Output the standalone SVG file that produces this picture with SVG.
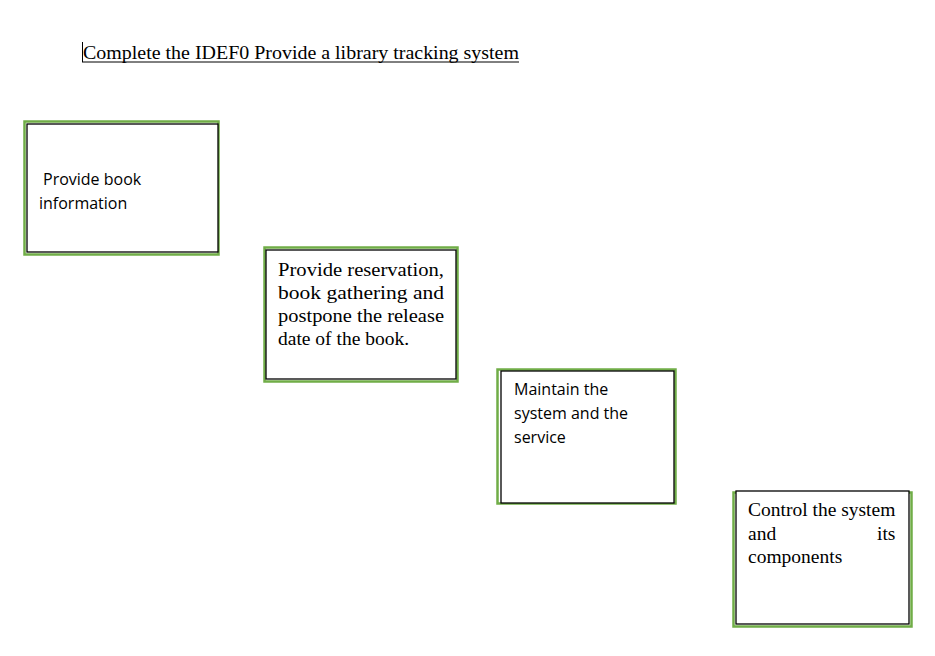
<svg xmlns="http://www.w3.org/2000/svg" width="935" height="656" viewBox="0 0 935 656">
<style>
.g{fill:none;stroke:#70ad47;stroke-width:2.5}
.b{fill:#fff;stroke:#000;stroke-width:1.3}
.c{font-family:"Open Sans","Noto Sans",sans-serif;font-size:16px;fill:#000}
.s{font-family:"Liberation Serif",serif;font-size:19.5px;fill:#000}
.t{font-family:"Liberation Serif",serif;font-size:18px;fill:#000}
</style>
<rect width="935" height="656" fill="#fff"/>
<g id="title">
<text class="t" x="83" y="59" textLength="436" lengthAdjust="spacingAndGlyphs">Complete the IDEF0 Provide a library tracking system</text>
<line x1="82" y1="62" x2="519" y2="62" stroke="#000" stroke-width="1"/>
<line x1="82.5" y1="42" x2="82.5" y2="62" stroke="#000" stroke-width="1"/>
</g>
<g id="node1">
<rect class="g" x="24.5" y="121.5" width="194" height="133"/>
<rect class="b" x="27" y="124" width="191" height="128"/>
<text class="c" x="43" y="185">Provide book</text>
<text class="c" x="39" y="209">information</text>
</g>
<g id="node2">
<rect class="g" x="264.5" y="247.5" width="193" height="134"/>
<rect class="b" x="266" y="250" width="190" height="129"/>
<text class="s" x="278" y="276" textLength="166" lengthAdjust="spacingAndGlyphs">Provide reservation,</text>
<text class="s" x="278" y="299" textLength="166" lengthAdjust="spacingAndGlyphs">book gathering and</text>
<text class="s" x="278" y="322" textLength="166" lengthAdjust="spacingAndGlyphs">postpone the release</text>
<text class="s" x="278" y="345">date of the book.</text>
</g>
<g id="node3">
<rect class="g" x="497.5" y="369.5" width="178" height="134"/>
<rect class="b" x="501" y="371" width="173" height="132"/>
<text class="c" x="514" y="395">Maintain the</text>
<text class="c" x="514" y="419">system and the</text>
<text class="c" x="514" y="443">service</text>
</g>
<g id="node4">
<rect class="g" x="733.5" y="492.5" width="178" height="134"/>
<rect class="b" x="736" y="491" width="173" height="133"/>
<text class="s" x="748" y="516">Control the system</text>
<text class="s" x="748" y="540">and</text>
<text class="s" x="877" y="540">its</text>
<text class="s" x="748" y="563">components</text>
</g>
<g id="connectors"/>
</svg>
